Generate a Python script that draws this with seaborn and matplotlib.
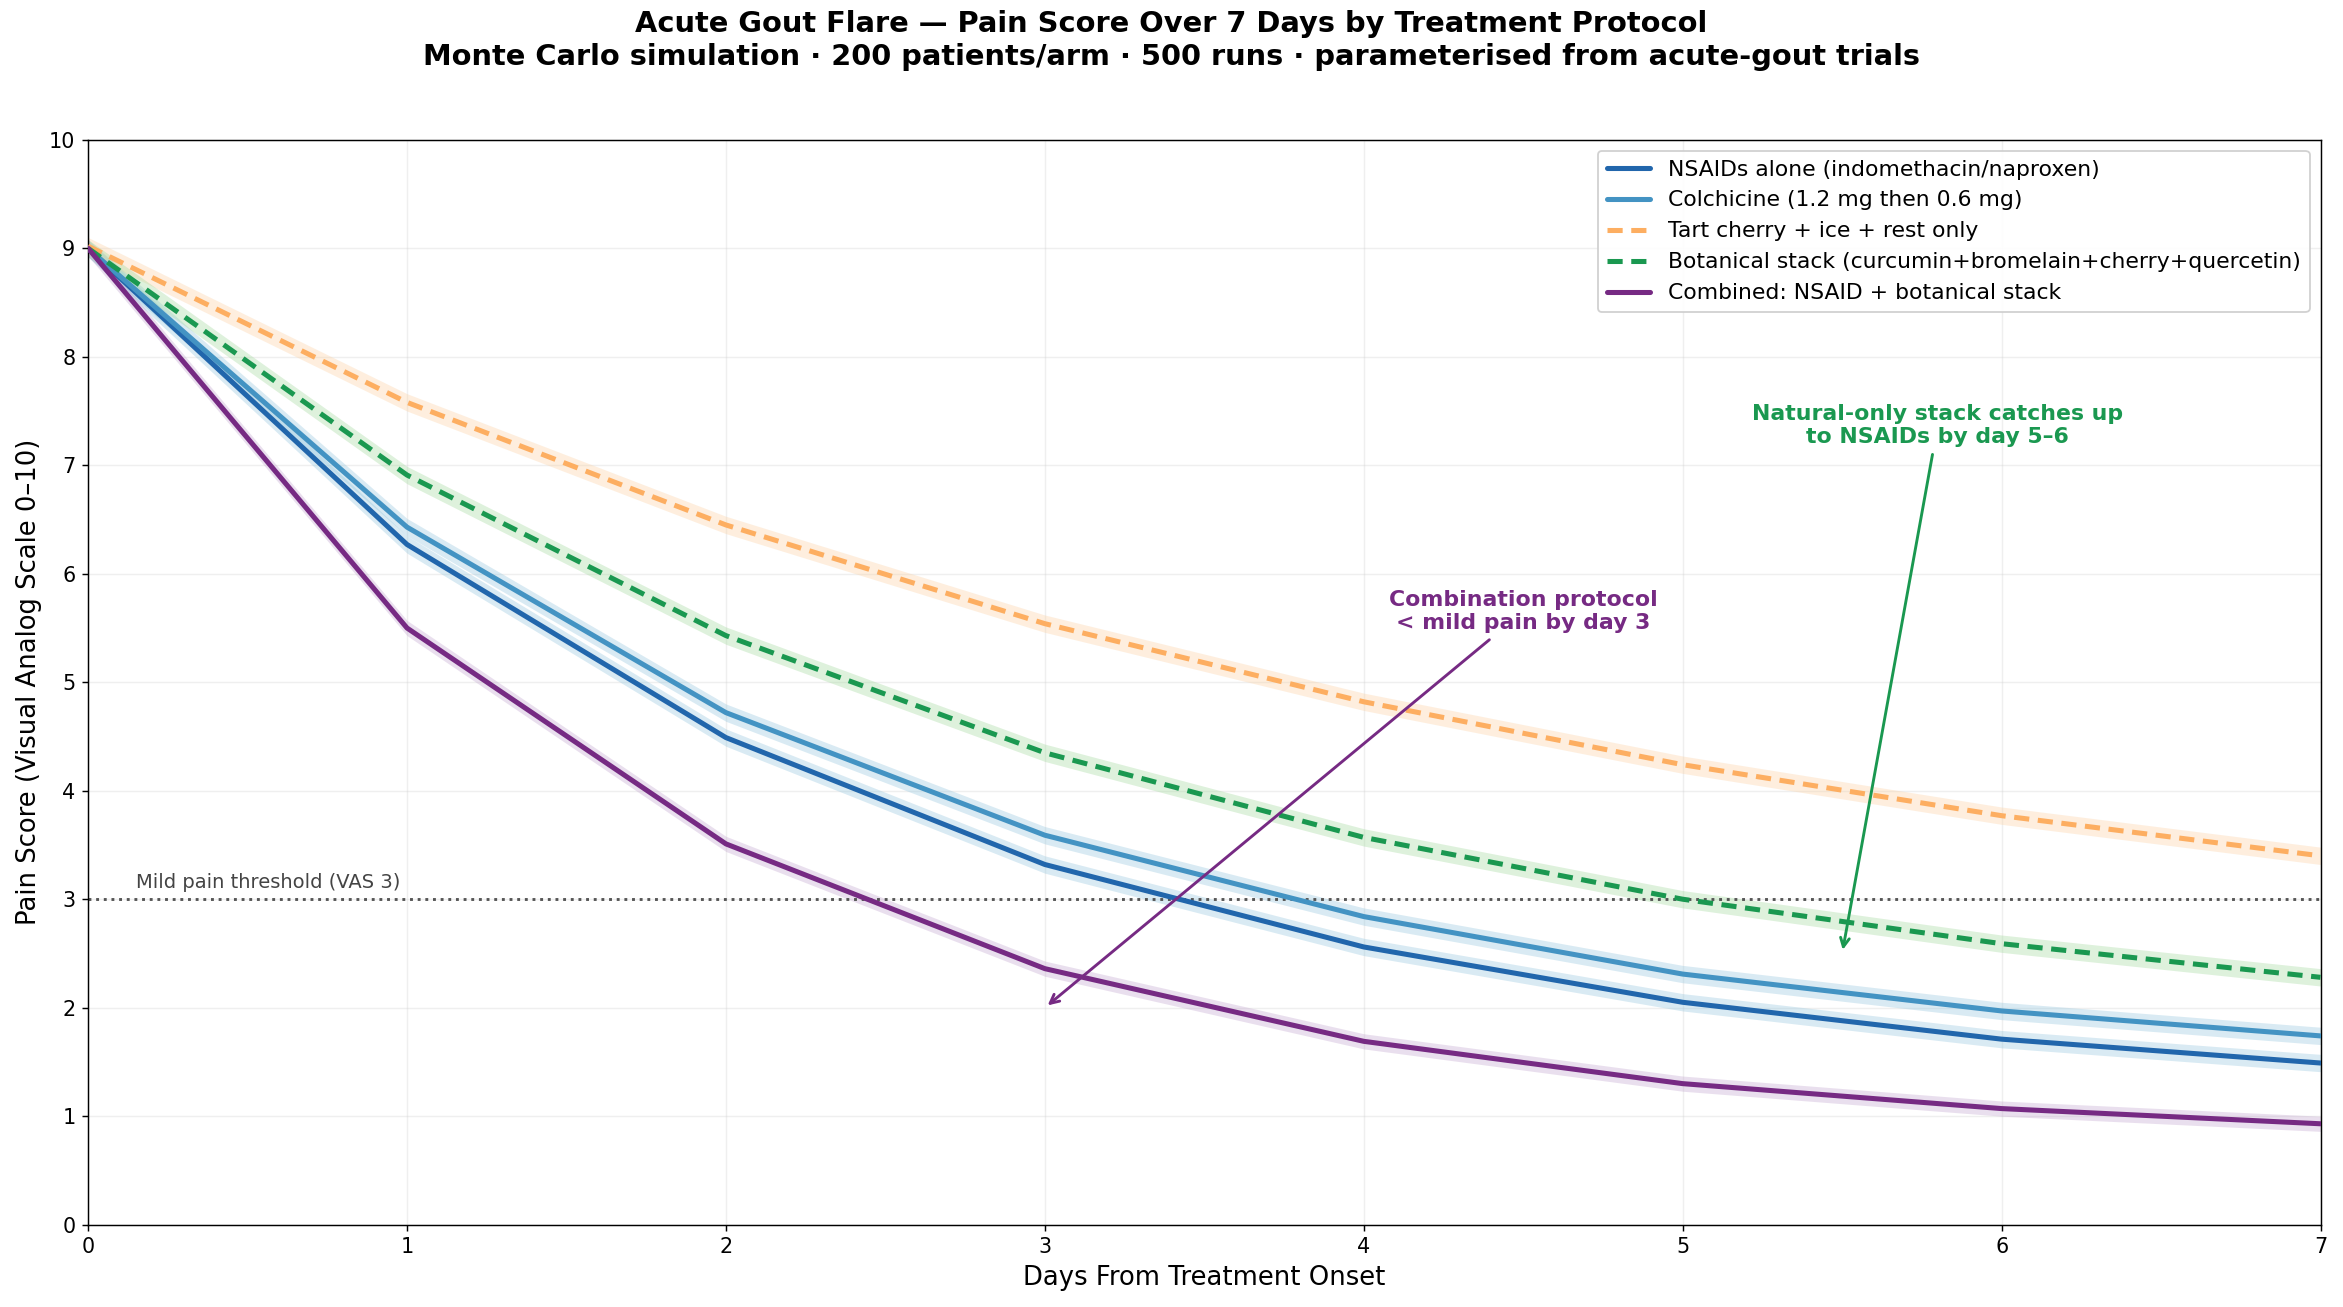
import numpy as np
import pandas as pd
import matplotlib
matplotlib.use("Agg")
import matplotlib.pyplot as plt
import seaborn as sns

days = [0, 1, 2, 3, 4, 5, 6, 7]

protocols = [
    "NSAIDs alone (indomethacin/naproxen)",
    "Colchicine (1.2 mg then 0.6 mg)",
    "Tart cherry + ice + rest only",
    "Botanical stack (curcumin+bromelain+cherry+quercetin)",
    "Combined: NSAID + botanical stack",
]

nsaid = [9.0, 6.27, 4.49, 3.32, 2.56, 2.05, 1.71, 1.49]
colchicine = [9.0, 6.43, 4.72, 3.59, 2.84, 2.31, 1.97, 1.74]
tart_cherry = [9.02, 7.58, 6.45, 5.54, 4.82, 4.24, 3.77, 3.40]
botanical = [9.0, 6.91, 5.43, 4.35, 3.57, 3.00, 2.59, 2.28]
combined = [9.0, 5.50, 3.51, 2.36, 1.69, 1.30, 1.07, 0.93]

# half-width of the shaded simulation band
band = [0.08, 0.08, 0.08, 0.08, 0.07]

colors = ["#2166ac", "#4393c3", "#fdae61", "#1a9850", "#762a83"]
band_colors = ["#92c5de", "#92c5de", "#fdd0a2", "#a1d99b", "#c2a5cf"]

series = [nsaid, colchicine, tart_cherry, botanical, combined]

df = pd.concat(
    [pd.DataFrame({"day": days, "pain": vals, "protocol": name})
     for name, vals in zip(protocols, series)],
    ignore_index=True,
)

sns.set_style("ticks")
plt.rcParams["font.family"] = ["DejaVu Sans"]
plt.rcParams.update({"text.color": "black", "axes.labelcolor": "black",
                     "xtick.color": "black", "ytick.color": "black"})

fig, ax = plt.subplots(figsize=(2343 / 130, 1307 / 130), dpi=130)
fig.subplots_adjust(left=0.0376, right=0.9904, bottom=0.063, top=0.893)

for name, vals, hw, bc in zip(protocols, series, band, band_colors):
    v = np.array(vals)
    ax.fill_between(days, v - hw, v + hw, color=bc, alpha=0.35, lw=0, zorder=1)

dash_map = {p: "" for p in protocols}
dash_map[protocols[2]] = (3.0, 1.7)
dash_map[protocols[3]] = (3.0, 1.7)

sns.lineplot(
    data=df, x="day", y="pain", hue="protocol", style="protocol",
    hue_order=protocols, style_order=protocols,
    palette=dict(zip(protocols, colors)), dashes=dash_map,
    linewidth=2.8, ax=ax, zorder=3,
)

ax.axhline(3, color="#555555", ls=":", lw=1.6, zorder=2)
ax.text(0.15, 3.07, "Mild pain threshold (VAS 3)", fontsize=10.8,
        color="#444444", va="bottom", ha="left")

ax.annotate("Combination protocol\n< mild pain by day 3", xy=(3, 2.0),
            xytext=(4.5, 5.65), ha="center", va="center",
            fontsize=12.2, fontweight="bold", color=colors[4],
            arrowprops=dict(arrowstyle="->", color=colors[4], lw=1.6))
ax.annotate("Natural-only stack catches up\nto NSAIDs by day 5\u20136", xy=(5.5, 2.5),
            xytext=(5.8, 7.37), ha="center", va="center",
            fontsize=12.2, fontweight="bold", color=colors[3],
            arrowprops=dict(arrowstyle="->", color=colors[3], lw=1.6))

ax.set_xlim(0, 7)
ax.set_ylim(0, 10)
ax.set_xticks(days)
ax.set_yticks(range(0, 11))
ax.tick_params(labelsize=11.5, colors="black")
ax.grid(True, alpha=0.3)
for s in ax.spines.values():
    s.set_visible(True)
    s.set_color("black")
ax.set_xlabel("Days From Treatment Onset", fontsize=14.3, color="black")
ax.set_ylabel("Pain Score (Visual Analog Scale 0\u201310)", fontsize=14.3, color="black")

sns.move_legend(ax, "upper right", fontsize=12.1, title=None, framealpha=0.9)
for t in ax.get_legend().get_texts():
    t.set_color("black")

fig.suptitle("Acute Gout Flare \u2014 Pain Score Over 7 Days by Treatment Protocol\n"
             "Monte Carlo simulation \u00b7 200 patients/arm \u00b7 500 runs \u00b7 "
             "parameterised from acute-gout trials",
             fontsize=16, fontweight="bold", y=0.992, va="top", color="black")

fig.savefig("out.png", dpi=130)
